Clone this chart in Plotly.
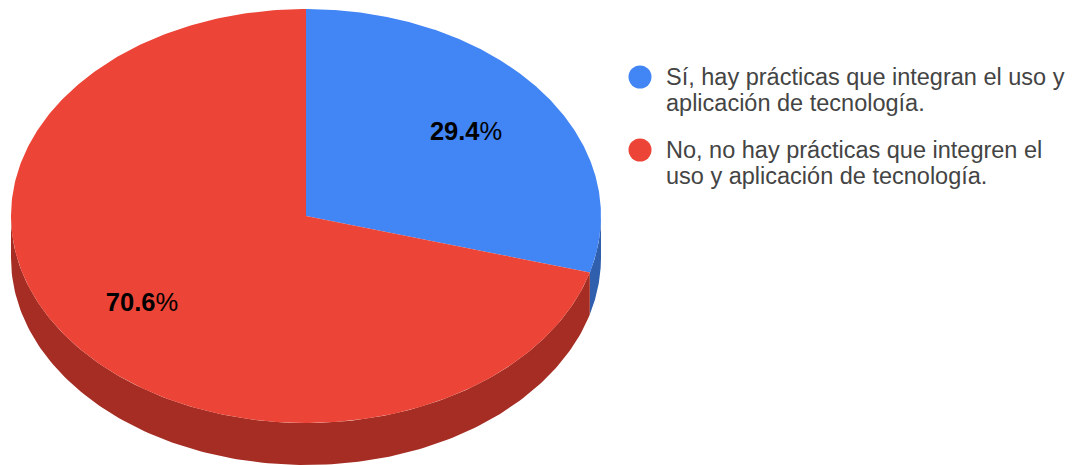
import numpy as np
import plotly.graph_objects as go

# Survey answers and their shares
categories = [
    ["Sí, hay prácticas que integran el uso y", "aplicación de tecnología."],
    ["No, no hay prácticas que integren el", "uso y aplicación de tecnología."],
]
shares = [29.4, 70.6]
top_colors = ["#4285F4", "#EC4436"]
wall_colors = ["#2F5FAD", "#A52D23"]

# Tilted disc geometry, in page pixels
WIDTH, HEIGHT = 1072, 465
CX, CY, RX, RY, DEPTH = 306, 216, 295, 207, 42
LINE_STEP = 26


def rim(angle_deg, drop=0.0):
    """Point on the disc rim; angles run clockwise from twelve o'clock."""
    a = np.radians(angle_deg)
    return CX + RX * np.sin(a), CY - RY * np.cos(a) + drop


fractions = np.array(shares) / sum(shares)
edges = np.concatenate([[0.0], np.cumsum(fractions) * 360.0])

fig = go.Figure()

# Side wall: only the part of each slice facing the viewer (90° to 270°)
for start, end, colour in zip(edges[:-1], edges[1:], wall_colors):
    lo, hi = max(start, 90.0), min(end, 270.0)
    if hi <= lo:
        continue
    arc = np.linspace(lo, hi, 160)
    tx, ty = rim(arc)
    bx, by = rim(arc[::-1], DEPTH)
    fig.add_trace(go.Scatter(
        x=np.concatenate([tx, bx]), y=np.concatenate([ty, by]),
        mode="lines", fill="toself", fillcolor=colour,
        line=dict(width=0), hoverinfo="skip", showlegend=False,
    ))

# Top face
for start, end, colour in zip(edges[:-1], edges[1:], top_colors):
    arc = np.linspace(start, end, 360)
    ax, ay = rim(arc)
    fig.add_trace(go.Scatter(
        x=np.concatenate([[CX], ax, [CX]]), y=np.concatenate([[CY], ay, [CY]]),
        mode="lines", fill="toself", fillcolor=colour,
        line=dict(width=0), hoverinfo="skip", showlegend=False,
    ))

# Percentage labels at each slice's mid angle
mids = (edges[:-1] + edges[1:]) / 2
lx = CX + 0.68 * RX * np.sin(np.radians(mids))
ly = CY - 0.68 * RY * np.cos(np.radians(mids))
fig.add_trace(go.Scatter(
    x=lx + np.array([0, -4]), y=ly + np.array([2, 4]),
    mode="text",
    text=[f"<b>{v:.1f}</b>%" for v in shares],
    textposition="middle center",
    textfont=dict(family="Liberation Sans", size=25.5, color="#000000"),
    hoverinfo="skip", showlegend=False,
))

# Legend: round swatches with two-line captions
legend_y = [77, 150]
fig.add_trace(go.Scatter(
    x=[640, 640], y=legend_y, mode="markers",
    marker=dict(size=23, color=top_colors, line=dict(width=0)),
    hoverinfo="skip", showlegend=False,
))
for lines, y in zip(categories, legend_y):
    for i, line in enumerate(lines):
        fig.add_annotation(
            x=666, y=y + i * LINE_STEP, xref="x", yref="y",
            xanchor="left", yanchor="middle",
            text=line, showarrow=False, align="left",
            font=dict(family="Liberation Sans", size=23.5, color="#444444"),
            borderpad=0, borderwidth=0,
        )

fig.update_layout(
    width=WIDTH, height=HEIGHT,
    margin=dict(l=0, r=0, t=0, b=0),
    paper_bgcolor="#FFFFFF", plot_bgcolor="#FFFFFF",
    xaxis=dict(range=[0, WIDTH], visible=False, fixedrange=True),
    yaxis=dict(range=[HEIGHT, 0], visible=False, fixedrange=True),
)

fig.write_html("out.html", config={"displayModeBar": False})
